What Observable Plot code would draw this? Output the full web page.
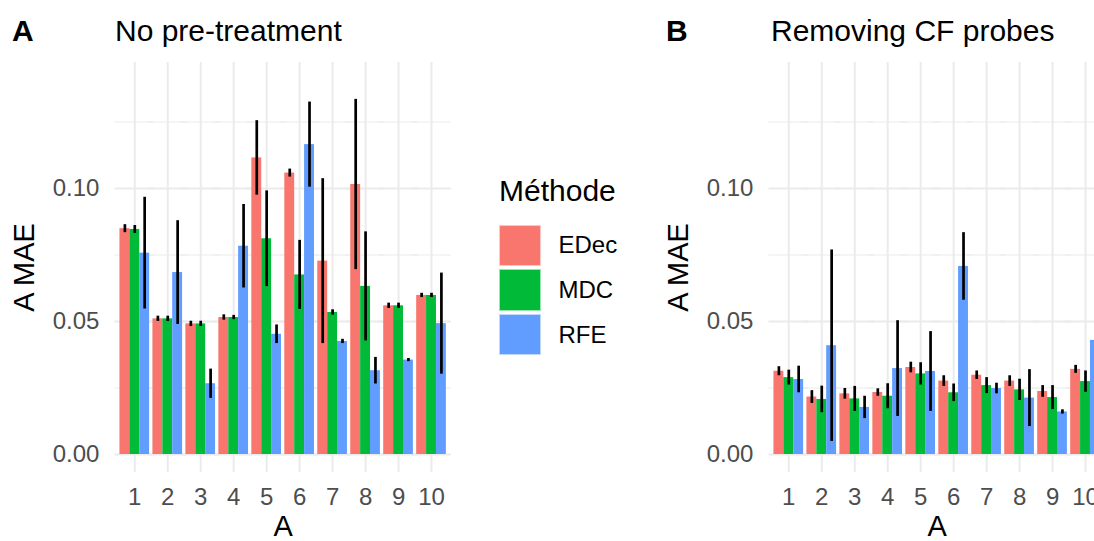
<!DOCTYPE html>
<html><head><meta charset="utf-8">
<script src="https://cdn.jsdelivr.net/npm/d3@7"></script>
<script src="https://cdn.jsdelivr.net/npm/@observablehq/plot@0.6"></script>
<style>
body{margin:0;background:#fff;overflow:hidden;}
#fig{position:relative;width:1094px;height:541px;overflow:hidden;font-family:"Liberation Sans",Arial,Helvetica,sans-serif;background:#fff;}
.panel{position:absolute;top:0;}
.tag{position:absolute;font-weight:bold;font-size:30px;line-height:1;color:#000;}
.title{position:absolute;font-size:30px;line-height:1;color:#000;white-space:nowrap;}
.legend{position:absolute;left:499px;top:176px;color:#000;}
.legend .lt{font-size:30px;line-height:1;margin-bottom:17px;}
.legend .row{display:flex;align-items:center;height:44.7px;}
.legend .key{width:41.5px;height:41.5px;margin-right:18px;box-sizing:border-box;border:1px solid rgba(255,255,255,0.6);}
.legend .lab{font-size:24px;}
</style></head><body><div id="fig"></div>
<script>
// ---- data ----
const groups = ["1","2","3","4","5","6","7","8","9","10"];
const methods = ["EDec","MDC","RFE"];
const methodColors = ["#F8766D","#00BA38","#619CFF"];
const yTicks = [0, 0.05, 0.10];
const yMinor = [0.025, 0.075, 0.125];

// Panel A : No pre-treatment
const A_EDec     = [0.0849,0.0510,0.0491,0.0515,0.1115,0.1058,0.0727,0.1015,0.0559,0.0598];
const A_EDec_err = [0.0015,0.0010,0.0010,0.0010,0.0140,0.0015,0.0310,0.0320,0.0010,0.0008];
const A_MDC      = [0.0846,0.0510,0.0491,0.0515,0.0811,0.0675,0.0534,0.0632,0.0559,0.0598];
const A_MDC_err  = [0.0015,0.0010,0.0010,0.0008,0.0180,0.0130,0.0010,0.0205,0.0010,0.0008];
const A_RFE      = [0.0757,0.0684,0.0266,0.0783,0.0452,0.1165,0.0425,0.0315,0.0355,0.0492];
const A_RFE_err  = [0.0210,0.0195,0.0055,0.0157,0.0035,0.0160,0.0008,0.0050,0.0006,0.0190];

// Panel B : Removing CF probes
const B_EDec     = [0.0313,0.0216,0.0228,0.0233,0.0327,0.0276,0.0298,0.0276,0.0237,0.0320];
const B_EDec_err = [0.0017,0.0024,0.0020,0.0014,0.0020,0.0020,0.0016,0.0020,0.0022,0.0015];
const B_MDC      = [0.0289,0.0207,0.0209,0.0219,0.0303,0.0232,0.0259,0.0243,0.0214,0.0274];
const B_MDC_err  = [0.0028,0.0050,0.0047,0.0047,0.0042,0.0033,0.0030,0.0040,0.0045,0.0040];
const B_RFE      = [0.0282,0.0409,0.0177,0.0323,0.0312,0.0707,0.0248,0.0212,0.0160,0.0429];
const B_RFE_err  = [0.0050,0.0360,0.0042,0.0180,0.0150,0.0127,0.0020,0.0107,0.0008,0.0100];

function rows(series) {
  const out = [];
  groups.forEach((g, i) => {
    methods.forEach((m, j) => {
      out.push({group: g, method: m, mae: series[j][0][i], err: series[j][1][i]});
    });
  });
  return out;
}
const dataA = rows([[A_EDec, A_EDec_err],[A_MDC, A_MDC_err],[A_RFE, A_RFE_err]]);
const dataB = rows([[B_EDec, B_EDec_err],[B_MDC, B_MDC_err],[B_RFE, B_RFE_err]]);

const FONT = '"Liberation Sans",Arial,Helvetica,sans-serif';
const GRID = "#ebebeb";
const EXT = -5; // extend horizontal gridlines across facet gaps

function panel(data) {
  return Plot.plot({
    width: 470, height: 560,
    marginLeft: 114.5, marginRight: 19.2, marginTop: 62, marginBottom: 88,
    style: {fontFamily: FONT, background: "transparent", overflow: "visible"},
    fx: {domain: groups, paddingInner: 0.1, paddingOuter: 0.15, round: false, label: null, axis: null},
    x: {domain: methods, padding: 0, round: false, axis: null},
    y: {domain: [-0.00677, 0.14737], axis: null},
    color: {domain: methods, range: methodColors},
    marks: [
      Plot.ruleY(yMinor, {stroke: GRID, strokeWidth: 1.1, insetLeft: EXT, insetRight: EXT}),
      Plot.ruleY(yTicks, {stroke: GRID, strokeWidth: 2.1, insetLeft: EXT, insetRight: EXT}),
      Plot.gridFx({stroke: GRID, strokeOpacity: 1, strokeWidth: 2}),
      Plot.barY(data, {fx: "group", x: "method", y: "mae", fill: "method"}),
      Plot.ruleX(data, {fx: "group", x: "method", y1: d => d.mae - d.err, y2: d => d.mae + d.err, stroke: "black", strokeWidth: 2.7}),
      Plot.axisY({ticks: yTicks, tickFormat: ".2f", tickSize: 0, tickPadding: 20.5, fontSize: 24, color: "#4d4d4d", label: null}),
      Plot.axisY({ticks: [], label: "A MAE", labelArrow: "none", labelAnchor: "center", labelOffset: 106.5, fontSize: 29, color: "#000"}),
      Plot.axisFx({anchor: "bottom", tickSize: 0, tickPadding: 15, fontSize: 24, color: "#4d4d4d", label: null}),
      Plot.axisFx({anchor: "bottom", ticks: [], label: "A", labelArrow: "none", labelAnchor: "center", labelOffset: 63, fontSize: 29, color: "#000"})
    ]
  });
}

const fig = document.getElementById("fig");
const pA = panel(dataA); pA.classList.add("panel"); pA.style.left = "0px";
const pB = panel(dataB); pB.classList.add("panel"); pB.style.left = "654.1px";
fig.appendChild(pA); fig.appendChild(pB);

function addText(cls, txt, left, top) {
  const d = document.createElement("div");
  d.className = cls; d.textContent = txt;
  d.style.left = left + "px"; d.style.top = top + "px";
  fig.appendChild(d);
}
addText("tag", "A", 12, 16);
addText("title", "No pre-treatment", 115, 16);
addText("tag", "B", 666, 16);
addText("title", "Removing CF probes", 771, 16);

const leg = document.createElement("div");
leg.className = "legend";
const lt = document.createElement("div"); lt.className = "lt"; lt.textContent = "Méthode";
leg.appendChild(lt);
methods.forEach((m, i) => {
  const r = document.createElement("div"); r.className = "row";
  const k = document.createElement("div"); k.className = "key"; k.style.background = methodColors[i];
  const l = document.createElement("div"); l.className = "lab"; l.textContent = m;
  r.appendChild(k); r.appendChild(l); leg.appendChild(r);
});
fig.appendChild(leg);
</script>
</body></html>
